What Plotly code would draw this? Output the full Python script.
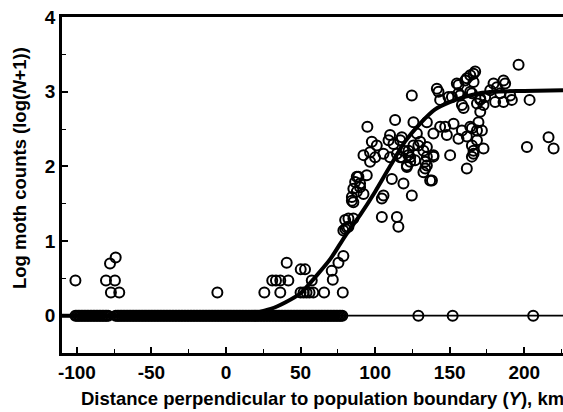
import plotly.graph_objects as go

# ---- data ----
# points lying on zero (log count = 0): a dense band of traps
x_zero = [-101, -100, -99, -98, -97, -96, -95, -94, -93, -92, -91, -90,
          -89, -88, -87, -86, -85, -84, -83, -82, -81, -80, -79,
          -74, -73, -72, -71, -70, -69, -68, -67, -66, -65, -64, -63, -62,
          -61, -60, -59, -58, -57, -56, -55, -54, -53, -52, -51, -50, -49,
          -48, -47, -46, -45, -44, -43, -42, -41, -40, -39, -38, -37, -36,
          -35, -34, -33, -32, -31, -30, -29, -28, -27, -26, -25, -24, -23,
          -22, -21, -20, -19, -18, -17, -16, -15, -14, -13, -12, -11, -10,
          -9, -8, -7, -6, -5, -4, -3, -2, -1, 0, 1, 2, 3, 4, 5, 6, 7, 8, 9,
          10, 11, 12, 13, 14, 15, 16, 17, 18, 19, 20, 21, 22, 23, 24, 25,
          26, 27, 28, 29, 30, 31, 32, 33, 34, 35, 36, 37, 38, 39, 40, 41,
          42, 43, 44, 45, 46, 47, 48, 49, 50, 51, 52, 53, 54, 55, 56, 57,
          58, 59, 60, 61, 62, 63, 64, 65, 66, 67, 68, 69, 70, 71, 72, 73,
          74, 75, 76, 77, 78, 129, 152, 206]
y_zero = [0] * len(x_zero)

# positive counts
x_pos = [-101, -80.5, -74.5, -77.8, -74, -77.2, -71.6, -5.8, 25.7, 36.4,
         31, 33.5, 36.4, 41.8, 40.7, 50.1, 53, 57.5, 50, 52, 54, 56, 58.5,
         65.8, 71.6, 70.9, 75.4, 78.7, 78.3,
         94.8, 110, 97.8, 101.1, 109, 112.3, 117.9, 92.2, 96.6, 100, 96.6,
         105.6, 110, 114.6, 117.9, 122.4, 125.7, 123.5, 121.3, 88.8, 86.6,
         89.9, 85.4, 87.7, 84.4, 94.4, 111.2, 119, 124.6, 105.6, 104.5,
         104.5, 114.6, 115.6, 79.9, 82.1, 78.7, 80, 81, 82.1, 85.4,
         124.6, 141.4, 142.5, 143.6, 151.5, 157, 158.2, 163.8, 166, 163.8,
         167.1, 160.4, 155.9, 125.7, 134.7, 139.1, 143.6, 147, 152.6, 148.1,
         158.2, 163.8, 169.3, 130.2, 134.7, 139.1, 133.6, 150.3, 155.9,
         161.5, 164.9, 166, 161.5, 122.3, 123.5,
         196.2, 166, 179.4, 186.1, 187.2, 181.7, 177.2, 183.9, 190.6, 191.7,
         173.8, 170.5, 168.3, 172.7, 170.5, 180.5, 186.1, 203.6, 164.9,
         168.3, 171.6, 168.3, 172.7, 166, 164.9, 201.8, 216.3, 219.7,
         134.7, 132.4, 136.9, 133.6, 113.4, 87.7, 89.9, 92.2, 84.4, 85.4,
         149.2, 155.9, 159.3, 164.9, 170.5, 154.8, 161.5, 116.8, 116.8, 128,
         129, 132.4, 134.7, 126.8, 121.3, 119, 139.1, 138.1]
y_pos = [0.47, 0.47, 0.47, 0.70, 0.78, 0.31, 0.31, 0.31, 0.31, 0.31,
         0.47, 0.47, 0.47, 0.47, 0.71, 0.62, 0.62, 0.47, 0.31, 0.31, 0.31,
         0.31, 0.31, 0.31, 0.48, 0.60, 0.71, 0.80, 0.31,
         2.53, 2.42, 2.33, 2.28, 2.35, 2.30, 2.39, 2.15, 2.19, 2.12, 2.06,
         2.17, 2.12, 2.17, 2.12, 2.21, 2.28, 2.12, 1.99, 1.86, 1.79,
         1.77, 1.70, 1.66, 1.54, 1.88, 1.83, 1.77, 1.61, 1.61, 1.57,
         1.32, 1.32, 1.19, 1.28, 1.30, 1.14, 1.16, 1.18, 1.19, 1.30,
         2.95, 3.04, 3.00, 2.89, 2.93, 2.95, 2.82, 3.00, 3.13, 3.22,
         3.27, 3.15, 3.09, 2.59, 2.59, 2.44, 2.53, 2.53, 2.57, 2.42,
         2.48, 2.53, 2.59, 2.33, 2.26, 2.15, 2.06, 2.15, 2.37,
         2.40, 2.28, 2.17, 1.97, 2.15, 2.06,
         3.36, 3.24, 3.11, 3.15, 3.11, 3.06, 3.02, 2.98, 2.95, 2.89,
         2.93, 2.91, 2.84, 2.82, 2.73, 2.86, 2.86, 2.89, 2.51,
         2.48, 2.48, 2.35, 2.24, 2.21, 2.13, 2.26, 2.39, 2.24,
         2.01, 1.92, 1.81, 1.97, 2.62, 1.86, 1.72, 1.63, 1.59, 1.52,
         2.93, 2.98, 2.78, 2.98, 2.89, 3.11, 3.18, 2.35, 2.12, 2.44,
         2.28, 2.21, 2.13, 2.08, 2.01, 2.21, 2.13, 1.81]

# fitted curve
x_curve = [-110, 0, 10, 20, 30, 40, 50, 60, 70, 80, 90, 100, 110, 120,
           130, 140, 150, 160, 170, 180, 200, 226]
y_curve = [0, 0, 0.01, 0.04, 0.09, 0.18, 0.30, 0.52, 0.76, 1.07, 1.35,
           1.66, 2.00, 2.33, 2.57, 2.76, 2.86, 2.93, 2.98, 3.00, 3.01, 3.02]

x_ticks = [-100, -50, 0, 50, 100, 150, 200]
y_ticks = [0, 1, 2, 3, 4]

FONT = "Liberation Sans"

fig = go.Figure()
marker = dict(symbol="circle-open", size=10, color="black",
              line=dict(width=2, color="black"))
fig.add_trace(go.Scatter(x=x_zero, y=y_zero, mode="markers", marker=marker,
                         showlegend=False, hoverinfo="skip"))
fig.add_trace(go.Scatter(x=x_pos, y=y_pos, mode="markers", marker=marker,
                         showlegend=False, hoverinfo="skip"))
fig.add_trace(go.Scatter(x=[-110, 226], y=[0, 0], mode="lines",
                         line=dict(color="black", width=1.8),
                         showlegend=False, hoverinfo="skip"))
fig.add_trace(go.Scatter(x=x_curve, y=y_curve, mode="lines",
                         line=dict(color="black", width=4, shape="spline",
                                   smoothing=0.8),
                         showlegend=False, hoverinfo="skip"))

fig.update_layout(
    width=563, height=412,
    margin=dict(l=62, r=0, t=17, b=59),
    paper_bgcolor="white", plot_bgcolor="white",
    font=dict(family=FONT, color="black"),
    xaxis=dict(range=[-110, 226], tickvals=x_ticks,
               ticktext=[str(v) for v in x_ticks],
               ticks="inside", ticklen=6, tickwidth=1.5, tickcolor="black",
               minor=dict(ticks="inside", dtick=25, tick0=0, ticklen=4,
                          tickwidth=1.2, tickcolor="black"),
               showline=True, linecolor="black", linewidth=2.5, mirror=True,
               showgrid=False, zeroline=False,
               tickfont=dict(family=FONT, size=19, weight="bold", color="black")),
    yaxis=dict(range=[-0.5, 4], tickvals=y_ticks,
               ticktext=[str(v) for v in y_ticks],
               ticks="inside", ticklen=6, tickwidth=1.5, tickcolor="black",
               minor=dict(ticks="inside", dtick=0.5, tick0=0, ticklen=4,
                          tickwidth=1.2, tickcolor="black"),
               showline=True, linecolor="black", linewidth=2.5,
               showgrid=False, zeroline=False,
               tickfont=dict(family=FONT, size=19, weight="bold", color="black")),
    annotations=[
        dict(text="Distance perpendicular to population boundary (<i>Y</i>), km",
             xref="paper", yref="paper", x=0.52, y=-0.136,
             xanchor="center", yanchor="middle", showarrow=False,
             font=dict(family=FONT, size=18.5, weight="bold", color="black")),
        dict(text="Log moth counts (log(<i>N</i>+1))",
             xref="paper", yref="paper", x=-0.086, y=0.55, textangle=-90,
             xanchor="center", yanchor="middle", showarrow=False,
             font=dict(family=FONT, size=18.5, weight="bold", color="black")),
    ],
)

fig.write_html("out.html")
